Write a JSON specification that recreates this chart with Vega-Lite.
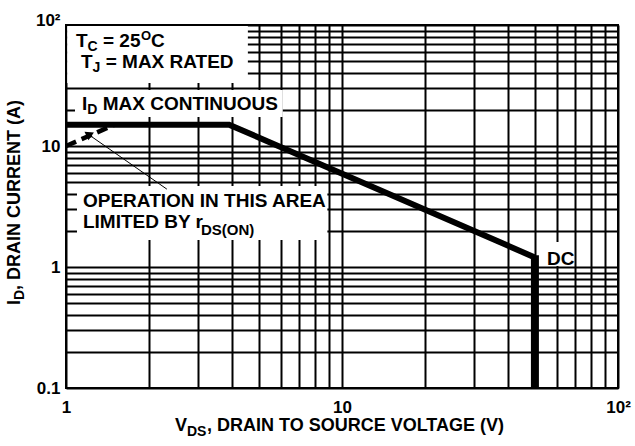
{
  "$schema": "https://vega.github.io/schema/vega-lite/v6.json",
  "width": 552,
  "height": 363,
  "autosize": {"type": "none"},
  "padding": {"left": 66, "top": 25, "right": 17, "bottom": 58},
  "background": "white",
  "config": {"view": {"stroke": "black", "strokeWidth": 2}, "font": "Liberation Sans"},
  "datasets": {
    "boxes": [
      {"v": 1.01, "v2": 4.56, "i": 33.2, "i2": 98.0},
      {"v": 1.078, "v2": 6.1, "i": 17.4, "i2": 29.0},
      {"v": 1.096, "v2": 8.85, "i": 1.67, "i2": 4.67},
      {"v": 52.5, "v2": 69, "i": 1.02, "i2": 1.61}
    ],
    "soa": [
      {"v": 1, "i": 15},
      {"v": 3.9, "i": 15},
      {"v": 50, "i": 1.2}
    ],
    "rds": [
      {"v": 1, "i": 10},
      {"v": 1.5, "i": 15}
    ],
    "dc": [{"v": 50, "i": 1.25, "i2": 0.1}],
    "arrow": [{"v": 2.32, "i": 4.4, "v2": 1.2, "i2": 12.56}],
    "head": [{"v": 1.2, "i": 12.56}],
    "txt19": [
      {"v": 1.087, "i": 65.8, "t": "T"},
      {"v": 1.3615, "i": 65.8, "t": "= 25"},
      {"v": 2.0323, "i": 65.8, "t": "C"},
      {"v": 1.1332, "i": 44.12, "t": "T"},
      {"v": 1.3924, "i": 44.12, "t": "= MAX RATED"},
      {"v": 1.1428, "i": 19.84, "t": "I"},
      {"v": 1.3581, "i": 19.84, "t": "MAX CONTINUOUS"},
      {"v": 1.1522, "i": 3.133, "t": "OPERATION IN THIS AREA"},
      {"v": 1.1522, "i": 2.101, "t": "LIMITED BY r"},
      {"v": 55.3, "i": 1.039, "t": "DC"}
    ],
    "txt18": [
      {"v": 2.483, "i": 0.04412, "t": "V"},
      {"v": 3.243, "i": 0.04412, "t": ", DRAIN TO SOURCE VOLTAGE (V)"}
    ],
    "txt14": [
      {"v": 1.1976, "i": 60.97, "t": "C"},
      {"v": 1.2484, "i": 40.89, "t": "J"},
      {"v": 1.1946, "i": 18.39, "t": "D"},
      {"v": 2.744, "i": 0.04012, "t": "DS"}
    ],
    "txt15": [
      {"v": 3.085, "i": 1.839, "t": "DS(ON)"}
    ],
    "txt13": [{"v": 1.8696, "i": 75.2, "t": "O"}],
    "ytitle": [
      {"v": 0.6813, "i": 0.4853, "t": "I"},
      {"v": 0.6813, "i": 0.6465, "t": ", DRAIN CURRENT (A)"}
    ],
    "ytitlesub": [{"v": 0.7045, "i": 0.5337, "t": "D"}]
  },
  "encoding": {
    "x": {
      "field": "v",
      "type": "quantitative",
      "scale": {"type": "log", "domain": [1, 100], "nice": false},
      "axis": {
        "title": null,
        "values": [1, 2, 3, 4, 5, 6, 7, 8, 9, 10, 20, 30, 40, 50, 60, 70, 80, 90, 100],
        "labelExpr": "datum.value == 1 ? '1' : datum.value == 10 ? '10' : datum.value == 100 ? '10²' : ''",
        "grid": true,
        "gridColor": "black",
        "gridWidth": 2,
        "gridOpacity": 1,
        "ticks": false,
        "domain": false,
        "labelFont": "Liberation Sans",
        "labelFontWeight": "bold",
        "labelFontSize": 17,
        "labelColor": "black",
        "labelPadding": 11,
        "labelFlush": false,
        "labelOverlap": false,
        "labelBound": false
      }
    },
    "y": {
      "field": "i",
      "type": "quantitative",
      "scale": {"type": "log", "domain": [0.1, 100], "nice": false},
      "axis": {
        "title": null,
        "values": [0.1, 0.2, 0.3, 0.4, 0.5, 0.6, 0.7, 0.8, 0.9, 1, 2, 3, 4, 5, 6, 7, 8, 9, 10, 20, 30, 40, 50, 60, 70, 80, 90, 100],
        "labelExpr": "datum.value == 0.1 ? '0.1' : datum.value == 1 ? '1' : datum.value == 10 ? '10' : datum.value == 100 ? '10²' : ''",
        "grid": true,
        "gridColor": "black",
        "gridWidth": 2,
        "gridOpacity": 1,
        "ticks": false,
        "domain": false,
        "labelFont": "Liberation Sans",
        "labelFontWeight": "bold",
        "labelFontSize": 17,
        "labelColor": "black",
        "labelPadding": 6,
        "labelBaseline": {"condition": {"test": "datum.value == 100", "value": "alphabetic"}, "value": "middle"},
        "labelFlush": false,
        "labelOverlap": false,
        "labelBound": false
      }
    }
  },
  "layer": [
    {
      "data": {"name": "boxes"},
      "mark": {"type": "rect", "fill": "white", "strokeWidth": 0},
      "encoding": {"x2": {"field": "v2"}, "y2": {"field": "i2"}}
    },
    {
      "data": {"name": "soa"},
      "mark": {"type": "line", "color": "black", "strokeWidth": 6, "strokeJoin": "miter"}
    },
    {
      "data": {"name": "rds"},
      "mark": {"type": "line", "color": "black", "strokeWidth": 4.5, "strokeDash": [11, 6], "strokeCap": "butt"}
    },
    {
      "data": {"name": "dc"},
      "mark": {"type": "rule", "color": "black", "strokeWidth": 8},
      "encoding": {"y2": {"field": "i2"}}
    },
    {
      "data": {"name": "arrow"},
      "mark": {"type": "rule", "color": "black", "strokeWidth": 1},
      "encoding": {"x2": {"field": "v2"}, "y2": {"field": "i2"}}
    },
    {
      "data": {"name": "head"},
      "mark": {"type": "point", "shape": "triangle-up", "filled": true, "color": "black", "opacity": 1, "size": 90, "angle": 305}
    },
    {
      "data": {"name": "txt19"},
      "mark": {"type": "text", "align": "left", "baseline": "alphabetic", "font": "Liberation Sans", "fontWeight": "bold", "fontSize": 19, "color": "black"},
      "encoding": {"text": {"field": "t"}}
    },
    {
      "data": {"name": "txt18"},
      "mark": {"type": "text", "align": "left", "baseline": "alphabetic", "font": "Liberation Sans", "fontWeight": "bold", "fontSize": 18, "color": "black"},
      "encoding": {"text": {"field": "t"}}
    },
    {
      "data": {"name": "txt14"},
      "mark": {"type": "text", "align": "left", "baseline": "alphabetic", "font": "Liberation Sans", "fontWeight": "bold", "fontSize": 14, "color": "black"},
      "encoding": {"text": {"field": "t"}}
    },
    {
      "data": {"name": "txt15"},
      "mark": {"type": "text", "align": "left", "baseline": "alphabetic", "font": "Liberation Sans", "fontWeight": "bold", "fontSize": 15, "color": "black"},
      "encoding": {"text": {"field": "t"}}
    },
    {
      "data": {"name": "txt13"},
      "mark": {"type": "text", "align": "left", "baseline": "alphabetic", "font": "Liberation Sans", "fontWeight": "bold", "fontSize": 13, "color": "black"},
      "encoding": {"text": {"field": "t"}}
    },
    {
      "data": {"name": "ytitle"},
      "mark": {"type": "text", "align": "left", "baseline": "alphabetic", "angle": 270, "font": "Liberation Sans", "fontWeight": "bold", "fontSize": 18, "color": "black"},
      "encoding": {"text": {"field": "t"}}
    },
    {
      "data": {"name": "ytitlesub"},
      "mark": {"type": "text", "align": "left", "baseline": "alphabetic", "angle": 270, "font": "Liberation Sans", "fontWeight": "bold", "fontSize": 14, "color": "black"},
      "encoding": {"text": {"field": "t"}}
    }
  ]
}
